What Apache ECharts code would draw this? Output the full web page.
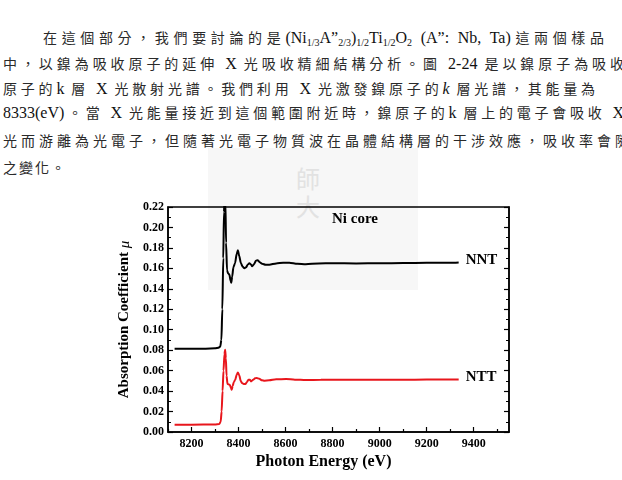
<!DOCTYPE html>
<html>
<head>
<meta charset="utf-8">
<script src="https://cdn.jsdelivr.net/npm/echarts@6/dist/echarts.min.js"></script>
<style>
  body { margin: 0; width: 622px; height: 480px; overflow: hidden; background: #fff; position: relative; }
  .ln { position: absolute; height: 26px; line-height: 26px; white-space: nowrap; font-family: "Noto Sans CJK TC", sans-serif; font-size: 14px; color: #2a2a2a; text-align: justify; text-align-last: justify; }
  .l { font-family: "Liberation Serif", serif; font-size: 16px; color: #111; }
  .l sub { font-size: 10px; vertical-align: -3px; }
  #head { position: absolute; left: 38px; top: -24px; line-height: 24px; font: bold 18px "Noto Sans CJK TC", sans-serif; color: #111; white-space: nowrap; }
  #wm { position: absolute; left: 208px; top: 148px; width: 210px; height: 142px; background: #f7f7f7; }
  .wmc { position: absolute; font: 24px "Noto Sans CJK TC", sans-serif; color: #e2e2e2; }
  #main { position: absolute; left: 0; top: 0; width: 622px; height: 480px; }
</style>
</head>
<body>
<div id="head">2.3.4 以鎳原子為吸收原子之分析</div>
<div class="ln" style="left:43px; top:24px; width:561px;">在這個部分，我們要討論的是<span class="l">(Ni<sub>1/3</sub>A”<sub>2/3</sub>)<sub>1/2</sub>Ti<sub>1/2</sub>O<sub>2</sub> (A”: Nb, Ta)</span>這兩個樣品</div>
<div class="ln" style="left:3px; top:50px; width:621px;">中，以鎳為吸收原子的延伸 <span class="l">X</span> 光吸收精細結構分析。圖 <span class="l">2-24</span> 是以鎳原子為吸收</div>
<div class="ln" style="left:3px; top:75px; width:592px;">原子的<span class="l">k</span> 層 <span class="l">X</span> 光散射光譜。我們利用 <span class="l">X</span> 光激發鎳原子的<span class="l"><i>k</i></span> 層光譜，其能量為</div>
<div class="ln" style="left:3px; top:99px; width:621px;"><span class="l">8333(eV)</span>。當 <span class="l">X</span> 光能量接近到這個範圍附近時，鎳原子的<span class="l">k</span> 層上的電子會吸收 <span class="l">X</span></div>
<div class="ln" style="left:3px; top:127px; width:626px;">光而游離為光電子，但隨著光電子物質波在晶體結構層的干涉效應，吸收率會隨</div>
<div class="ln" style="left:3px; top:154px; text-align:left; text-align-last:left; letter-spacing:2px;">之變化。</div>
<div id="wm"></div>
<div class="wmc" style="left:296px; top:160px;">師</div>
<div class="wmc" style="left:296px; top:188px;">大</div>
<div id="main"></div>
<script>
// 橫軸刻度
var xMajorTicks = [8200, 8400, 8600, 8800, 9000, 9200, 9400];
var xMinorTicks = [8100, 8300, 8500, 8700, 8900, 9100, 9300, 9500];

// NNT 曲線
var nntEnergy = [8128, 8200, 8260, 8300, 8315, 8322, 8327, 8331, 8335, 8338, 8341, 8344, 8347, 8351, 8356, 8361, 8366, 8369, 8373, 8378, 8385, 8392, 8397, 8403, 8410, 8418, 8425, 8432, 8439, 8446, 8452, 8458, 8466, 8474, 8481, 8490, 8500, 8515, 8531, 8560, 8590, 8616, 8650, 8686, 8740, 8800, 8900, 9000, 9100, 9200, 9300, 9336];
var nntMu = [0.0815, 0.0815, 0.0815, 0.0818, 0.0825, 0.0835, 0.090, 0.120, 0.170, 0.215, 0.235, 0.225, 0.185, 0.158, 0.155, 0.154, 0.148, 0.146, 0.152, 0.161, 0.165, 0.174, 0.1776, 0.172, 0.165, 0.1615, 0.160, 0.161, 0.1636, 0.165, 0.164, 0.162, 0.164, 0.1675, 0.168, 0.166, 0.1645, 0.1635, 0.1636, 0.1648, 0.1656, 0.1656, 0.1645, 0.164, 0.1648, 0.165, 0.1648, 0.165, 0.1652, 0.1655, 0.1655, 0.1658];

// NTT 曲線
var nttEnergy = [8128, 8200, 8300, 8318, 8324, 8328, 8332, 8336, 8340, 8343, 8346, 8349, 8353, 8358, 8363, 8368, 8371, 8375, 8380, 8386, 8392, 8397, 8403, 8409, 8415, 8422, 8429, 8436, 8442, 8448, 8453, 8462, 8470, 8477, 8488, 8500, 8510, 8530, 8560, 8602, 8640, 8686, 8750, 8850, 8941, 9050, 9150, 9250, 9336];
var nttMu = [0.0072, 0.0072, 0.0074, 0.0078, 0.010, 0.020, 0.040, 0.060, 0.076, 0.0805, 0.072, 0.055, 0.047, 0.0465, 0.046, 0.043, 0.0414, 0.045, 0.0489, 0.051, 0.056, 0.0583, 0.0555, 0.050, 0.0479, 0.047, 0.0469, 0.049, 0.0512, 0.051, 0.0495, 0.051, 0.0525, 0.0528, 0.052, 0.0505, 0.0502, 0.0505, 0.0515, 0.0518, 0.0512, 0.0508, 0.051, 0.0512, 0.0512, 0.0512, 0.0512, 0.0513, 0.0513];

function pairs(xs, ys) {
  var out = [];
  for (var i = 0; i < xs.length; i++) out.push([xs[i], ys[i]]);
  return out;
}

var chart = echarts.init(document.getElementById('main'));

var lineSeries = function (name, data, color) {
  return {
    name: name,
    type: 'line',
    data: data,
    showSymbol: false,
    smooth: 0.25,
    smoothMonotone: 'x',
    clip: true,
    lineStyle: { color: color, width: 2 },
    endLabel: {
      show: true,
      formatter: '{a}',
      distance: 7,
      offset: [0, -2],
      color: '#000',
      fontFamily: 'Liberation Serif',
      fontWeight: 'bold',
      fontSize: 15
    },
    animation: false
  };
};

var option = {
  backgroundColor: 'transparent',
  animation: false,
  grid: {
    left: 168, right: 113, top: 207, bottom: 48,
    show: true, borderColor: '#000', borderWidth: 1.5, backgroundColor: 'transparent'
  },
  xAxis: [
    {
      type: 'value', min: 8100, max: 9550, position: 'bottom',
      name: 'Photon Energy (eV)', nameLocation: 'middle', nameGap: 22,
      nameTextStyle: { fontFamily: 'Liberation Serif', fontWeight: 'bold', fontSize: 16, color: '#000', padding: [0, 30, 0, 0] },
      axisLine: { show: true, lineStyle: { color: '#000', width: 1.5 } },
      axisTick: { show: true, inside: true, length: 5, customValues: xMajorTicks, lineStyle: { color: '#000', width: 1.2 } },
      axisLabel: {
        customValues: xMajorTicks, margin: 6, color: '#000', fontFamily: 'Liberation Serif', fontWeight: 'bold', fontSize: 12,
        formatter: function (v) { return String(v); }
      },
      splitLine: { show: false }
    },
    {
      type: 'value', min: 8100, max: 9550, position: 'bottom', offset: 0,
      axisLine: { show: false },
      axisTick: { show: true, inside: true, length: 3, customValues: xMinorTicks, lineStyle: { color: '#000', width: 1.2 } },
      axisLabel: { show: false },
      splitLine: { show: false }
    }
  ],
  yAxis: [
    {
      type: 'value', min: 0, max: 0.22, interval: 0.02, position: 'left',
      name: '{a|Absorption Coefficient }{b|μ}', nameLocation: 'middle', nameGap: 32, nameRotate: 90,
      nameTextStyle: {
        rich: {
          a: { fontFamily: 'Liberation Serif', fontWeight: 'bold', fontSize: 15, color: '#000' },
          b: { fontFamily: 'Liberation Serif', fontStyle: 'italic', fontSize: 15, color: '#000' }
        }
      },
      axisLine: { show: true, lineStyle: { color: '#000', width: 1.5 } },
      axisTick: { show: true, inside: true, length: 5, lineStyle: { color: '#000', width: 1.2 } },
      minorTick: { show: true, splitNumber: 2, length: 3, lineStyle: { color: '#000', width: 1 } },
      axisLabel: {
        margin: 4, color: '#000', fontFamily: 'Liberation Serif', fontWeight: 'bold', fontSize: 12,
        formatter: function (v) { return v.toFixed(2); }
      },
      splitLine: { show: false }
    },
    {
      type: 'value', min: 0, max: 0.22, interval: 0.02, position: 'right',
      axisLine: { show: true, lineStyle: { color: '#000', width: 1.5 } },
      axisTick: { show: true, inside: true, length: 5, lineStyle: { color: '#000', width: 1.2 } },
      minorTick: { show: true, splitNumber: 2, length: 3, lineStyle: { color: '#000', width: 1 } },
      axisLabel: { show: false },
      splitLine: { show: false }
    }
  ],
  graphic: [
    {
      type: 'text', left: 332, top: 212,
      style: { text: 'Ni core', font: 'bold 15px "Liberation Serif"', fill: '#000' }
    }
  ],
  series: [
    lineSeries('NNT', pairs(nntEnergy, nntMu), '#000'),
    lineSeries('NTT', pairs(nttEnergy, nttMu), '#e8161c')
  ]
};

chart.setOption(option);
</script>
</body>
</html>
